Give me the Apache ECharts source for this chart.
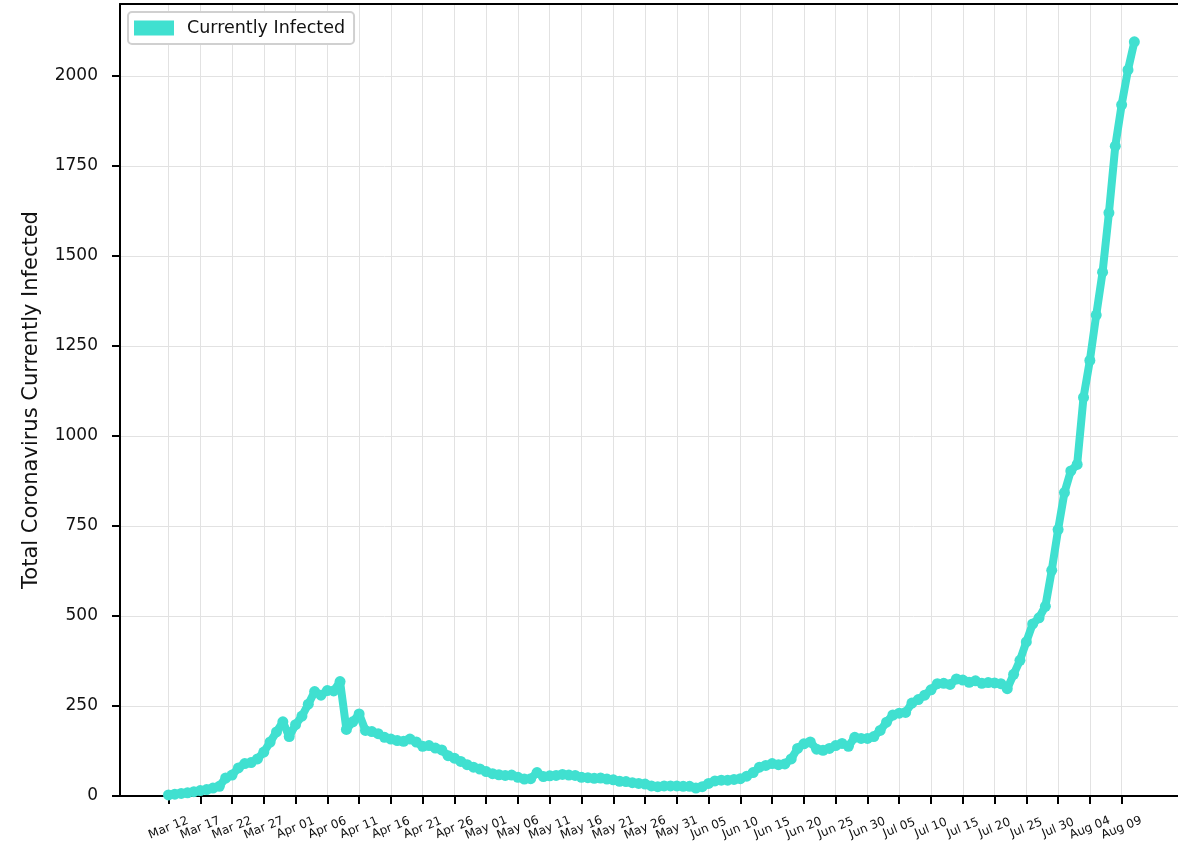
<!DOCTYPE html>
<html>
<head>
<meta charset="utf-8">
<script src="https://cdn.jsdelivr.net/npm/echarts@6/dist/echarts.min.js"></script>
<style>
  html, body { margin: 0; padding: 0; background: #fff; }
  #chart { width: 1178px; height: 846px; }
</style>
</head>
<body>
<div id="chart"></div>
<script>
// daily values, Mar 12 .. Aug 11
const infected = [
  3, 5, 7, 9, 12, 15, 18, 22, 27, 50,
  58, 78, 90, 93, 103, 122, 150, 178, 206, 165,
  198, 222, 255, 290, 280, 293, 292, 318, 185, 206,
  228, 182, 179, 173, 163, 158, 154, 152, 158, 150,
  138, 140, 133, 128, 112, 105, 96, 87, 80, 75,
  68, 62, 59, 57, 58, 52, 47, 48, 65, 54,
  56, 57, 60, 58, 57, 52, 51, 49, 50, 47,
  45, 41, 40, 37, 35, 33, 28, 26, 28, 28,
  28, 27, 27, 22, 26, 35, 42, 44, 44, 46,
  48, 55, 65, 80, 85, 90, 87, 89, 103, 132,
  145, 150, 130, 127, 132, 140, 146, 138, 163, 160,
  160, 165, 182, 205, 225, 230, 232, 258, 268, 280,
  295, 312, 313, 310, 325, 322, 316, 320, 313, 315,
  314, 312, 298, 338, 377, 428, 478, 495, 527, 627,
  740, 843, 903, 921, 1107, 1210, 1336, 1455, 1620, 1805,
  1920, 2017, 2095
]

// x tick labels, one every 5 days from Mar 12
const xTickLabels = [
  'Mar 12', 'Mar 17', 'Mar 22', 'Mar 27', 'Apr 01', 'Apr 06', 'Apr 11', 'Apr 16',
  'Apr 21', 'Apr 26', 'May 01', 'May 06', 'May 11', 'May 16', 'May 21', 'May 26',
  'May 31', 'Jun 05', 'Jun 10', 'Jun 15', 'Jun 20', 'Jun 25', 'Jun 30', 'Jul 05',
  'Jul 10', 'Jul 15', 'Jul 20', 'Jul 25', 'Jul 30', 'Aug 04', 'Aug 09'
]
const xTickDays = xTickLabels.map((l, i) => i * 5)

const yTicks = [0, 250, 500, 750, 1000, 1250, 1500, 1750, 2000]

const seriesData = infected.map((v, i) => [i, v])
const labelByDay = {}
xTickDays.forEach((d, i) => { labelByDay[d] = xTickLabels[i] })

// visible day range: the right spine sits just past the picture's edge
const xMin = -7.63
const xMax = 158.87

const chart = echarts.init(document.getElementById('chart'))
chart.setOption({
  backgroundColor: '#fff',
  animation: false,
  textStyle: { fontFamily: 'DejaVu Sans' },
  grid: { left: 120, right: 0, top: 4, bottom: 50 },
  legend: {
    left: 128,
    top: 12,
    data: ['Currently Infected'],
    icon: 'rect',
    itemWidth: 40,
    itemHeight: 15,
    padding: [7, 9, 7, 6],
    backgroundColor: '#fff',
    borderColor: '#d0d0d0',
    borderWidth: 2,
    borderRadius: 4,
    textStyle: { fontSize: 17.5, color: '#111', fontFamily: 'DejaVu Sans', padding: [0, 0, 0, 8] }
  },
  xAxis: [
    {
      type: 'value',
      min: xMin,
      max: xMax,
      axisLine: { show: true, onZero: false, lineStyle: { color: '#000', width: 2 } },
      axisTick: {
        show: true,
        inside: false,
        length: 8,
        customValues: xTickDays,
        lineStyle: { color: '#000', width: 2 }
      },
      axisLabel: {
        customValues: xTickDays,
        rotate: 22,
        align: 'center',
        verticalAlign: 'middle',
        margin: 32,
        fontSize: 12,
        showMinLabel: true,
        showMaxLabel: true,
        hideOverlap: false,
        color: '#111',
        fontFamily: 'DejaVu Sans',
        formatter: (v) => labelByDay[Math.round(v)] || ''
      },
      splitLine: { show: true, lineStyle: { color: '#e2e2e2', width: 1 } }
    },
    {
      type: 'value',
      position: 'top',
      min: xMin,
      max: xMax,
      axisLine: { show: true, onZero: false, lineStyle: { color: '#000', width: 2 } },
      axisTick: { show: false },
      axisLabel: { show: false },
      splitLine: { show: false }
    }
  ],
  yAxis: {
    type: 'value',
    min: 0,
    max: 2200,
    name: 'Total Coronavirus Currently Infected',
    nameLocation: 'middle',
    nameGap: 78,
    nameTextStyle: { fontSize: 21, color: '#111', fontFamily: 'DejaVu Sans' },
    axisLine: { show: true, onZero: false, lineStyle: { color: '#000', width: 2 } },
    axisTick: {
      show: true,
      inside: false,
      length: 8,
      customValues: yTicks,
      lineStyle: { color: '#000', width: 2 }
    },
    axisLabel: {
      customValues: yTicks,
      margin: 22,
      fontSize: 17,
      color: '#111',
      fontFamily: 'DejaVu Sans',
      formatter: (v) => String(v)
    },
    splitLine: { show: true, lineStyle: { color: '#e2e2e2', width: 1 } }
  },
  series: [
    {
      name: 'Currently Infected',
      type: 'line',
      xAxisIndex: 0,
      data: seriesData,
      color: '#40e0d0',
      lineStyle: { width: 8, color: '#40e0d0' },
      symbol: 'circle',
      symbolSize: 11,
      showSymbol: true,
      itemStyle: { color: '#40e0d0' },
      z: 5
    }
  ]
})
</script>
</body>
</html>
